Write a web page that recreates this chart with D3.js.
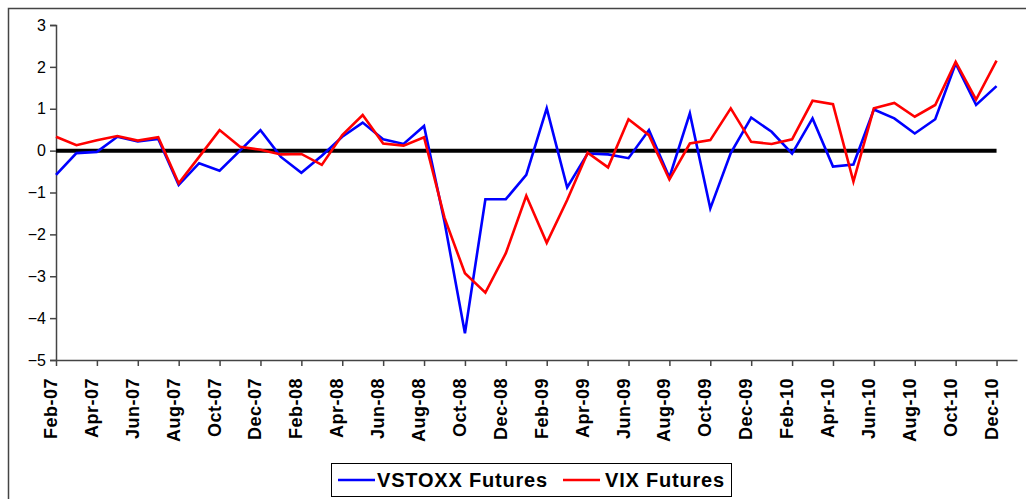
<!DOCTYPE html>
<html>
<head>
<meta charset="utf-8">
<script src="https://cdn.jsdelivr.net/npm/d3@7"></script>
<style>
  body { margin: 0; background: #fff; }
  svg { display: block; font-family: "Liberation Sans", Arial, sans-serif; }
</style>
</head>
<body>
<svg id="chart" width="1026" height="499"></svg>
<script>
// monthly categories Feb-07 .. Dec-10
var months = ["Feb-07","Mar-07","Apr-07","May-07","Jun-07","Jul-07","Aug-07","Sep-07","Oct-07","Nov-07","Dec-07",
    "Jan-08","Feb-08","Mar-08","Apr-08","May-08","Jun-08","Jul-08","Aug-08","Sep-08","Oct-08","Nov-08","Dec-08",
    "Jan-09","Feb-09","Mar-09","Apr-09","May-09","Jun-09","Jul-09","Aug-09","Sep-09","Oct-09","Nov-09","Dec-09",
    "Jan-10","Feb-10","Mar-10","Apr-10","May-10","Jun-10","Jul-10","Aug-10","Sep-10","Oct-10","Nov-10","Dec-10"];

var vstoxx = [-0.58, -0.06, -0.03, 0.33, 0.22, 0.28, -0.82, -0.30, -0.48, 0.00, 0.49,
    -0.15, -0.53, -0.12, 0.33, 0.67, 0.27, 0.16, 0.59, -1.70, -4.36, -1.16, -1.16,
    -0.58, 1.01, -0.88, -0.07, -0.09, -0.18, 0.49, -0.64, 0.89, -1.38, -0.06, 0.79,
    0.45, -0.07, 0.77, -0.38, -0.33, 0.98, 0.77, 0.41, 0.75, 2.08, 1.09, 1.54];

var vix = [0.33, 0.13, 0.25, 0.35, 0.24, 0.32, -0.78, -0.15, 0.49, 0.09, 0.02,
    -0.09, -0.08, -0.34, 0.37, 0.85, 0.17, 0.12, 0.32, -1.60, -2.93, -3.39, -2.45,
    -1.08, -2.20, -1.18, -0.05, -0.40, 0.75, 0.37, -0.69, 0.17, 0.25, 1.01, 0.21,
    0.16, 0.27, 1.19, 1.11, -0.74, 1.01, 1.14, 0.81, 1.09, 2.12, 1.22, 2.15];

var yTicks = [-5, -4, -3, -2, -1, 0, 1, 2, 3];
var seriesNames = ["VSTOXX Futures", "VIX Futures"];
var seriesColors = ["#0000ff", "#ff0000"];

var svg = d3.select("#chart");

// outer chart border
svg.append("rect")
    .attr("x", 8.5).attr("y", 8.5)
    .attr("width", 1030).attr("height", 500)
    .attr("fill", "none")
    .attr("stroke", "#444")
    .attr("stroke-width", 1.5);

var x = d3.scaleLinear()
    .domain([0, months.length])   // axis runs one category past the last point
    .range([56, 1017]);

var y = d3.scaleLinear()
    .domain([-5, 3])
    .range([360, 25]);

// y axis
var yAxis = svg.append("g")
    .attr("transform", "translate(56,0)")
    .call(d3.axisLeft(y).tickValues(yTicks).tickSize(6).tickPadding(4).tickFormat(d3.format("d")));
yAxis.select(".domain").attr("stroke", "#444").attr("stroke-width", 1.5);
yAxis.selectAll(".tick line").attr("stroke", "#444").attr("stroke-width", 1.5);
yAxis.selectAll("text")
    .attr("font-size", "16px")
    .attr("fill", "#000")
    .attr("font-family", "Liberation Sans, Arial, sans-serif");

// x axis, tick every second month
var xTickIdx = d3.range(0, months.length, 2);
var xAxis = svg.append("g")
    .attr("transform", "translate(0,360)")
    .call(d3.axisBottom(x).tickValues(xTickIdx).tickSize(6).tickSizeOuter(0).tickFormat(""));
xAxis.select(".domain").attr("stroke", "#444").attr("stroke-width", 1.5);
xAxis.selectAll(".tick line").attr("stroke", "#444").attr("stroke-width", 1.5);

svg.append("g")
    .selectAll("text")
    .data(xTickIdx)
    .enter()
    .append("text")
    .attr("transform", d => "translate(" + (x(d) + 1) + ",378) rotate(-90)")
    .attr("text-anchor", "end")
    .attr("font-size", "18px")
    .attr("font-weight", "bold")
    .attr("letter-spacing", "0.5px")
    .text(d => months[d]);

// zero line
svg.append("line")
    .attr("x1", x(0)).attr("x2", x(months.length - 1))
    .attr("y1", y(0)).attr("y2", y(0))
    .attr("stroke", "#000")
    .attr("stroke-width", 4);

var line = d3.line()
    .x((d, i) => x(i))
    .y(d => y(d));

[vstoxx, vix].forEach((vals, k) => {
    svg.append("path")
        .datum(vals)
        .attr("fill", "none")
        .attr("stroke", seriesColors[k])
        .attr("stroke-width", 2.6)
        .attr("stroke-linejoin", "miter")
        .attr("d", line);
});

// legend
var legend = svg.append("g");
legend.append("rect")
    .attr("x", 331.5).attr("y", 463.5)
    .attr("width", 400).attr("height", 33)
    .attr("fill", "#fff")
    .attr("stroke", "#000")
    .attr("stroke-width", 1);

var legendItems = [{ x1: 338, tx: 377 }, { x1: 563, tx: 605 }];
legendItems.forEach((it, k) => {
    legend.append("line")
        .attr("x1", it.x1).attr("x2", it.x1 + 37)
        .attr("y1", 480).attr("y2", 480)
        .attr("stroke", seriesColors[k])
        .attr("stroke-width", 2.5);
    legend.append("text")
        .attr("x", it.tx).attr("y", 487)
        .attr("font-size", "20px")
        .attr("font-weight", "bold")
        .attr("letter-spacing", "0.8px")
        .text(seriesNames[k]);
});
</script>
</body>
</html>
